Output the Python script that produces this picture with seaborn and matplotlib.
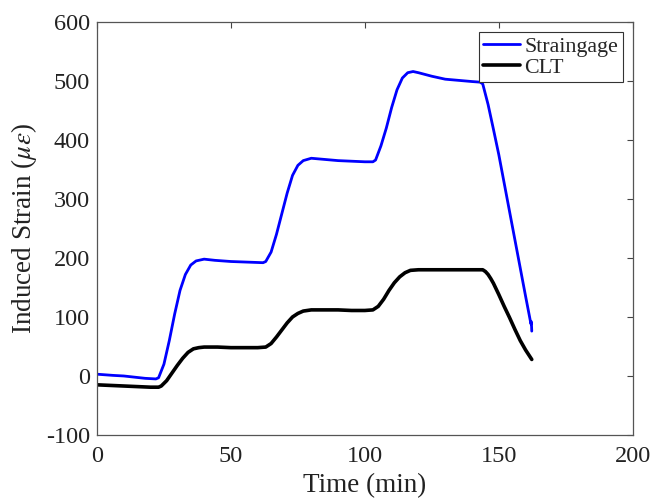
import matplotlib
matplotlib.use("Agg")
import matplotlib.pyplot as plt
import seaborn as sns
import pandas as pd

sg_time = [0, 3, 6, 10, 14, 18, 22, 23, 25, 27, 29, 31, 33, 35, 37, 40, 44, 50, 56, 62,
           63, 65, 67, 69, 71, 73, 75, 77, 80, 85, 90, 95, 100, 103,
           104, 106, 108, 110, 112, 114, 116, 118, 120, 125, 130, 135, 140, 143,
           144, 146, 148, 150, 152, 154, 156, 158, 160, 162, 162.15, 162.3]
sg_strain = [3, 2, 1, 0, -2, -4, -5, -3, 20, 60, 105, 145, 172, 188, 195, 198, 196, 194, 193, 192,
             194, 210, 240, 275, 310, 340, 357, 365, 369, 367, 365, 364, 363, 363,
             366, 390, 420, 455, 485, 505, 514, 516, 514, 508, 503, 501, 499, 498,
             495, 460, 418, 375, 327, 279, 231, 183, 135, 88, 92, 76]

clt_time = [0, 5, 10, 15, 20, 23, 24, 26, 28, 30, 32, 34, 36, 38, 40, 45, 50, 55, 60, 63,
            65, 67, 69, 71, 73, 75, 77, 80, 85, 90, 95, 100, 103,
            105, 107, 109, 111, 113, 115, 117, 120, 125, 130, 135, 140, 143,
            144, 145, 146, 147, 148, 150, 152, 154, 156, 158, 160, 162.3]
clt_strain = [-15, -16, -17, -18, -19, -19, -17, -8, 5, 18, 30, 40, 46, 48, 49, 49, 48, 48, 48, 49,
              55, 66, 78, 90, 100, 106, 110, 112, 112, 112, 111, 111, 112,
              118, 130, 145, 158, 168, 175, 179, 180, 180, 180, 180, 180, 180,
              180, 177, 172, 165, 157, 138, 118, 99, 79, 60, 44, 28]

x_ticks = [0, 50, 100, 150, 200]
y_ticks = [-100, 0, 100, 200, 300, 400, 500, 600]
y_tick_labels = ["-100", "0", "100", "200", "300", "400", "500", "600"]

sns.set_style("white")
plt.rcParams["font.family"] = ["Liberation Serif", "DejaVu Serif"]
plt.rcParams["mathtext.fontset"] = "stix"

df = pd.concat([
    pd.DataFrame({"Time": sg_time, "Strain": sg_strain, "Series": "Straingage"}),
    pd.DataFrame({"Time": clt_time, "Strain": clt_strain, "Series": "CLT"}),
])

fig = plt.figure(figsize=(6.53, 4.99), dpi=100)
ax = fig.add_axes([0.1485, 0.1283, 0.8205, 0.8277])

sns.lineplot(data=df[df.Series == "Straingage"], x="Time", y="Strain", ax=ax,
             color="#0000ff", linewidth=2.0, label="Straingage", sort=False)
sns.lineplot(data=df[df.Series == "CLT"], x="Time", y="Strain", ax=ax,
             color="black", linewidth=2.6, label="CLT", sort=False)

ax.set_xlim(0, 200)
ax.set_ylim(-100, 600)
ax.set_xticks(x_ticks)
ax.set_yticks(y_ticks)
ax.set_yticklabels(y_tick_labels)
ax.tick_params(direction="in", length=4, width=0.8, color="#444444",
               top=True, right=True, labelsize=17.5, labelcolor="#222222")
ax.tick_params(axis="y", pad=5)
ax.tick_params(axis="x", pad=8)
for s in ax.spines.values():
    s.set_color("#555555")
    s.set_linewidth(0.9)
    s.set_visible(True)

ax.set_xlabel("Time (min)", fontsize=19.5, labelpad=4, color="#222222")
ax.set_ylabel(r"Induced Strain ($\mu\epsilon$)", fontsize=19.5, labelpad=5, color="#222222")

leg = ax.legend(loc="upper right", fontsize=15.8, frameon=True, fancybox=False,
                edgecolor="#333333", framealpha=1, borderaxespad=0.45,
                handlelength=1.7, handletextpad=0.2, borderpad=0.2, labelspacing=0.05)
leg.get_frame().set_linewidth(0.8)

fig.savefig("out.png", dpi=100)
